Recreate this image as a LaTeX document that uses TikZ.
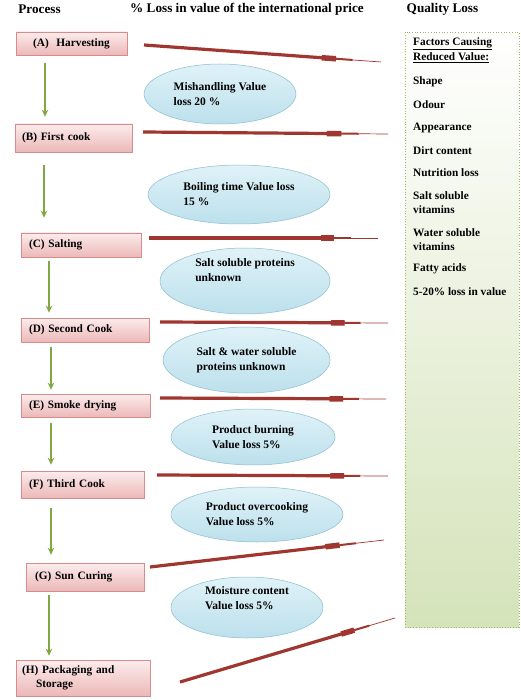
\documentclass[tikz,border=0pt]{standalone}
\usepackage{fontspec}
\setmainfont{Liberation Serif}
\usepackage{tikz}
\usetikzlibrary{arrows.meta,calc,shapes.geometric,positioning}
\definecolor{procLine}{RGB}{214,140,140}
\definecolor{procTop}{RGB}{252,236,236}
\definecolor{procBot}{RGB}{236,184,184}
\definecolor{ovalLine}{RGB}{140,190,206}
\definecolor{ovalTop}{RGB}{224,242,248}
\definecolor{ovalBot}{RGB}{188,224,236}
\definecolor{flowGreen}{RGB}{128,168,66}
\definecolor{rodRed}{RGB}{160,54,48}
\definecolor{panelLine}{RGB}{160,185,100}
\definecolor{panelBot}{RGB}{213,227,186}
\tikzset{
  headtext/.style={font=\fontsize{13.2}{15}\selectfont\bfseries},
  procbox/.style={draw=procLine,top color=procTop,bottom color=procBot,
    line width=0.6pt,inner xsep=7pt,inner ysep=1pt,align=left,
    font=\fontsize{11.3}{14}\selectfont\bfseries},
  lossoval/.style={ellipse,draw=ovalLine,top color=ovalTop,bottom color=ovalBot,
    line width=0.5pt,inner sep=0pt,align=left,
    font=\fontsize{11.5}{15}\selectfont\bfseries},
  flowarrow/.style={draw=flowGreen,line width=2.8pt,
    -{Stealth[length=7pt,width=6.5pt]}},
  rodbody/.style={draw=rodRed,line width=3.2pt},
  qualitem/.style={anchor=west,inner sep=0pt,align=left,
    font=\fontsize{11.3}{14}\selectfont\bfseries}
}
\newcommand{\lossrod}[2]{%
  \draw[rodbody] (#1) -- ($(#1)!0.81!(#2)$);
  \draw[rodbody,line width=5.5pt] ($(#1)!0.75!(#2)$) -- ($(#1)!0.81!(#2)$);
  \draw[rodbody,line width=2pt] ($(#1)!0.81!(#2)$) -- ($(#1)!0.88!(#2)$);
  \draw[rodbody,line width=0.7pt] ($(#1)!0.88!(#2)$) -- (#2);
}
\begin{document}
\begin{tikzpicture}[x=1pt,y=-1pt]
  \useasboundingbox[fill=white] (0,0) rectangle (520,700);
  % column headings
  \node[headtext] (hproc) at (39.5,9) {Process};
  \node[headtext] (hloss) at (247,9) {\% Loss in value of the international price};
  \node[headtext] (hqual) at (442.5,9) {Quality Loss};
  % process steps
  \node[procbox,align=center,text width=97pt,minimum height=23pt] (A) at (71.5,43.5) {(A)~~Harvesting};
  \node[procbox,text width=103pt,minimum height=28pt] (B) at (73.5,138) {(B) First cook};
  \node[procbox,inner xsep=8pt,text width=104pt,minimum height=24pt] (C) at (81,245) {(C) Salting};
  \node[procbox,inner xsep=8pt,text width=112pt,minimum height=24pt] (D) at (85,330) {(D) Second Cook};
  \node[procbox,inner xsep=8pt,text width=113pt,minimum height=23pt] (E) at (85.5,405.5) {(E) Smoke drying};
  \node[procbox,inner xsep=8pt,text width=107pt,minimum height=27pt] (F) at (82.5,484.5) {(F) Third Cook};
  \node[procbox,inner xsep=9pt,text width=100pt,minimum height=28pt] (G) at (85,577) {(G) Sun Curing};
  \node[procbox,inner xsep=6pt,text width=122pt,minimum height=36pt] (H) at (83,678) {(H) Packaging and\\\hspace*{14pt}Storage};
  \foreach \u/\v/\ax/\ga/\gb in {A/B/45/8/7,B/C/44/13/15,C/D/49/4/5,D/E/51/5/4,E/F/51/6/6,F/G/51/10/8,G/H/49/4/4}
    \draw[flowarrow,shorten <=\ga pt,shorten >=\gb pt] (\u.south -| \ax,0) -- (\v.north -| \ax,0);
  % losses in value
  \node[lossoval,minimum width=152pt,minimum height=60pt] (mishandle) at (220,94) {Mishandling Value\\loss 20 \%};
  \node[lossoval,minimum width=182pt,minimum height=59pt] (boiling) at (239,194.5) {Boiling time Value loss\\15 \%};
  \node[lossoval,minimum width=170pt,minimum height=66pt] (saltprot) at (245,281) {Salt soluble proteins\\unknown\\[6pt]};
  \node[lossoval,minimum width=167pt,minimum height=66pt] (waterprot) at (246.5,360) {Salt \& water soluble\\proteins unknown};
  \node[lossoval,minimum width=164pt,minimum height=56pt] (burning) at (253,437) {Product burning\\Value loss 5\%};
  \node[lossoval,minimum width=172pt,minimum height=55pt] (overcook) at (257,514.5) {Product overcooking\\Value loss 5\%};
  \node[lossoval,minimum width=152pt,minimum height=61pt] (moisture) at (247,607.5) {Moisture content\\Value loss 5\%\\[4pt]};
  % red rods
  \coordinate (r1a) at (144,45);  \coordinate (r1b) at (381,62);
  \coordinate (r2a) at (143,132); \coordinate (r2b) at (388,134);
  \coordinate (r3a) at (149,238); \coordinate (r3b) at (378,238);
  \coordinate (r4a) at (160,322); \coordinate (r4b) at (388,323);
  \coordinate (r5a) at (160,398); \coordinate (r5b) at (386,399);
  \coordinate (r6a) at (157,475); \coordinate (r6b) at (388,476);
  \coordinate (r7a) at (150,567); \coordinate (r7b) at (384,540);
  \coordinate (r8a) at (180,682); \coordinate (r8b) at (395,618);
  \foreach \i in {1,...,8} {\lossrod{r\i a}{r\i b}}
  % quality loss panel
  \node[draw=panelLine,dotted,line width=0.7pt,top color=white,bottom color=panelBot,
    minimum width=114pt,minimum height=595pt,inner sep=0pt] (quality) at (462,329.5) {};
  \node[qualitem] (qtitle) at (413,50) {\underline{Factors Causing}\\[1pt]\underline{Reduced Value:}};
  \foreach \y/\t [count=\k] in {82/Shape,105/Odour,128/Appearance,151/Dirt content,173/Nutrition loss,
      203/{Salt soluble\\vitamins},240/{Water soluble\\vitamins},269/Fatty acids,292/{5-20\% loss in value}}
    \node[qualitem] (q\k) at (413,\y) {\t};
\end{tikzpicture}
\end{document}
